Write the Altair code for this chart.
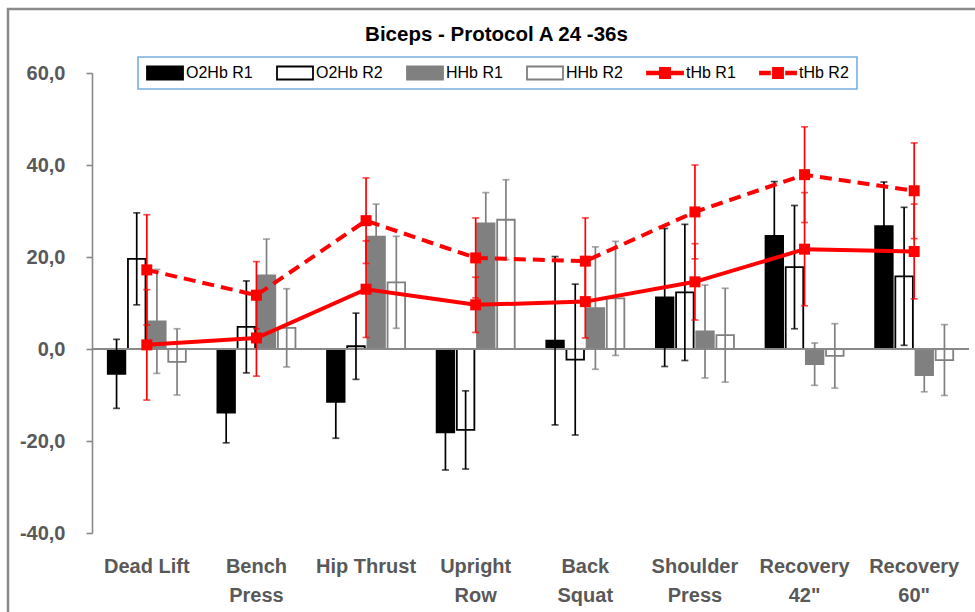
import altair as alt
import pandas as pd

# ---- data -------------------------------------------------------------
categories = ["Dead Lift", "Bench Press", "Hip Thrust", "Upright Row",
              "Back Squat", "Shoulder Press", 'Recovery 42"', 'Recovery 60"']

bar_series = ["O2Hb R1", "O2Hb R2", "HHb R1", "HHb R2"]
line_series = ["tHb R1", "tHb R2"]
series_names = bar_series + line_series

o2hb_r1 = [-5.4, -13.8, -11.5, -18.1, 1.8, 11.2, 24.6, 26.7]
o2hb_r1_sd = [7.5, 6.6, 7.9, 8.2, 18.3, 15.0, 11.8, 9.6]
o2hb_r2 = [19.6, 4.8, 0.6, -17.6, -2.3, 12.3, 17.8, 15.8]
o2hb_r2_sd = [10.0, 10.0, 7.2, 8.5, 16.4, 14.8, 13.4, 15.0]
hhb_r1 = [6.0, 16.0, 24.4, 27.3, 8.9, 3.8, -3.3, -5.7]
hhb_r1_sd = [11.3, 7.9, 7.1, 6.7, 13.3, 10.1, 4.6, 3.6]
hhb_r2 = [-2.8, 4.6, 14.5, 28.1, 11.0, 3.0, -1.5, -2.4]
hhb_r2_sd = [7.2, 8.5, 10.0, 8.7, 12.4, 10.2, 7.0, 7.7]
thb_r1 = [0.9, 2.4, 13.0, 9.6, 10.3, 14.6, 21.7, 21.2]
thb_r1_sd = [12.0, 8.3, 10.5, 6.0, 7.9, 8.3, 12.3, 10.3]
thb_r2 = [17.2, 11.7, 27.9, 19.8, 19.1, 29.8, 37.9, 34.4]
thb_r2_sd = [12.0, 7.3, 9.3, 8.7, 9.4, 10.2, 10.4, 10.4]

y_ticks = [-40, -20, 0, 20, 40, 60]

# ---- styling ----------------------------------------------------------
fills = ["#000000", "#ffffff", "#808080", "#ffffff", "#ff0000", "#ff0000"]
strokes = ["#000000", "#000000", "#808080", "#808080", "#ff0000", "#ff0000"]
# legend glyphs: a bar swatch, or a line with a square marker
BAR_GLYPH = "M-1,-0.36H1V0.36H-1Z"
LINE_GLYPH = "M-1,-0.07H1V0.07H-1ZM-0.28,-0.28H0.28V0.28H-0.28Z"
DASH_GLYPH = ("M-1,-0.07H-0.45V0.07H-1ZM0.45,-0.07H1V0.07H0.45Z"
              "M-0.28,-0.28H0.28V0.28H-0.28Z")
legend_shapes = [BAR_GLYPH, BAR_GLYPH, BAR_GLYPH, BAR_GLYPH, LINE_GLYPH, DASH_GLYPH]
RED = "#ff0000"
AXIS_GREY = "#898989"
LABEL_GREY = "#595959"
FONT = "Liberation Sans"


def long_table(names, values, sds):
    rows = []
    for name, vals, sd in zip(names, values, sds):
        for cat, v, e in zip(categories, vals, sd):
            rows.append({"category": cat, "series": name, "value": v,
                         "lo": round(v - e, 2), "hi": round(v + e, 2)})
    return pd.DataFrame(rows)


bars_df = long_table(bar_series, [o2hb_r1, o2hb_r2, hhb_r1, hhb_r2],
                     [o2hb_r1_sd, o2hb_r2_sd, hhb_r1_sd, hhb_r2_sd])
lines_df = long_table(line_series, [thb_r1, thb_r2], [thb_r1_sd, thb_r2_sd])


def js_list(items):
    return "[" + ",".join(f"'{i}'" for i in items) + "]"


idx = f"indexof({js_list(series_names)}, datum.value)"


def pick(items):
    return alt.ExprRef(expr=f"{js_list(items)}[{idx}]")


legend = alt.Legend(
    title=None, orient="none", direction="horizontal",
    legendX=46, legendY=-16, clipHeight=16,
    symbolSize=1296, labelFont=FONT, labelFontSize=16, labelColor="#000000",
    labelOffset=2, columnPadding=23, padding=8,
    strokeColor="#79aee0",
    symbolType=pick(legend_shapes),
    symbolStrokeWidth=1.8,
    symbolFillColor=pick(fills),
    symbolStrokeColor=pick(strokes),
    symbolOpacity=1,
)

x_enc = alt.X("category:N", sort=categories, title=None,
              scale=alt.Scale(paddingInner=0.288, paddingOuter=0.144),
              axis=alt.Axis(domain=False, ticks=False, tickSize=0, labelAngle=0,
                            labelPadding=23, labelLineHeight=29,
                            labelFont=FONT, labelFontSize=20, labelFontWeight="bold",
                            labelColor=LABEL_GREY, labelBaseline="top",
                            labelExpr="datum.value == 'Dead Lift' || datum.value == 'Hip Thrust' ? datum.value : split(datum.value, ' ')"))
x_off = alt.XOffset("series:N", sort=bar_series,
                    scale=alt.Scale(domain=bar_series, paddingInner=0.13, paddingOuter=0))
y_scale = alt.Scale(domain=[-40, 60], nice=False, zero=False)
y_axis = alt.Axis(values=y_ticks, grid=False, title=None,
                  domainColor=AXIS_GREY, domainWidth=1.6,
                  tickColor=AXIS_GREY, tickWidth=1.6, tickSize=6,
                  labelPadding=21, labelFont=FONT, labelFontSize=20,
                  labelFontWeight="bold", labelColor=LABEL_GREY,
                  labelExpr="replace(replace(format(datum.value, '.1f'), '.', ','), '\u2212', '-')")

bar_fill = alt.Fill("series:N", scale=alt.Scale(domain=series_names, range=fills), legend=legend)
bar_stroke = alt.Stroke("series:N", scale=alt.Scale(domain=series_names, range=strokes), legend=legend)

# chart area frame
frame = alt.Chart(pd.DataFrame({"f": [0]})).mark_rect(
    fillOpacity=0, stroke="#8a8a8a", strokeWidth=2.5
).encode(x=alt.value(-84), x2=alt.value(920), y=alt.value(-64), y2=alt.value(600))

bars = alt.Chart(bars_df).mark_bar(strokeWidth=1.8).encode(
    x=x_enc, xOffset=x_off,
    y=alt.Y("value:Q", scale=y_scale, axis=y_axis),
    fill=bar_fill, stroke=bar_stroke,
)

zero_line = alt.Chart(pd.DataFrame({"z": [0]})).mark_rule(
    color=AXIS_GREY, strokeWidth=2
).encode(y=alt.Y("z:Q", scale=y_scale))

bar_err = alt.Chart(bars_df).mark_rule(strokeWidth=1.7).encode(
    x=alt.X("category:N", sort=categories), xOffset=x_off,
    y=alt.Y("lo:Q", scale=y_scale), y2="hi:Q",
    stroke=alt.Stroke("series:N", scale=alt.Scale(domain=series_names, range=strokes), legend=None),
)
bar_caps = alt.Chart(bars_df).transform_fold(["lo", "hi"], as_=["end", "pos"]).mark_tick(
    thickness=1.7, size=7
).encode(
    x=alt.X("category:N", sort=categories), xOffset=x_off,
    y=alt.Y("pos:Q", scale=y_scale),
    color=alt.Color("series:N", scale=alt.Scale(domain=series_names, range=strokes), legend=None),
)

thb_err = alt.Chart(lines_df).mark_rule(strokeWidth=1.7, color=RED).encode(
    x=alt.X("category:N", sort=categories),
    y=alt.Y("lo:Q", scale=y_scale), y2="hi:Q",
)
thb_caps = alt.Chart(lines_df).transform_fold(["lo", "hi"], as_=["end", "pos"]).mark_tick(
    thickness=1.7, size=7, color=RED
).encode(
    x=alt.X("category:N", sort=categories),
    y=alt.Y("pos:Q", scale=y_scale),
)

thb_r1_line = alt.Chart(lines_df).transform_filter(alt.datum.series == "tHb R1").mark_line(
    color=RED, strokeWidth=4
).encode(x=alt.X("category:N", sort=categories), y=alt.Y("value:Q", scale=y_scale))
thb_r2_line = alt.Chart(lines_df).transform_filter(alt.datum.series == "tHb R2").mark_line(
    color=RED, strokeWidth=4, strokeDash=[12, 7]
).encode(x=alt.X("category:N", sort=categories), y=alt.Y("value:Q", scale=y_scale))

markers = alt.Chart(lines_df).mark_square(size=121, color=RED, opacity=1).encode(
    x=alt.X("category:N", sort=categories), y=alt.Y("value:Q", scale=y_scale),
)

chart = alt.layer(
    frame, bars, zero_line, bar_err, bar_caps, thb_err, thb_caps,
    thb_r1_line, thb_r2_line, markers,
).properties(
    width=877, height=460,
    title=alt.Title("Biceps - Protocol A 24 -36s", font=FONT, fontSize=20.5,
                    fontWeight="bold", color="#000000", anchor="middle",
                    frame="group", dx=-34, dy=46, offset=8),
    padding={"left": 92, "top": 73, "right": 6, "bottom": 79},
    autosize=alt.AutoSizeParams(type="none"),
).configure_view(stroke=None).configure_legend(strokeWidth=1.6)

chart.save("out.html", embed_options={"renderer": "svg", "actions": False})
